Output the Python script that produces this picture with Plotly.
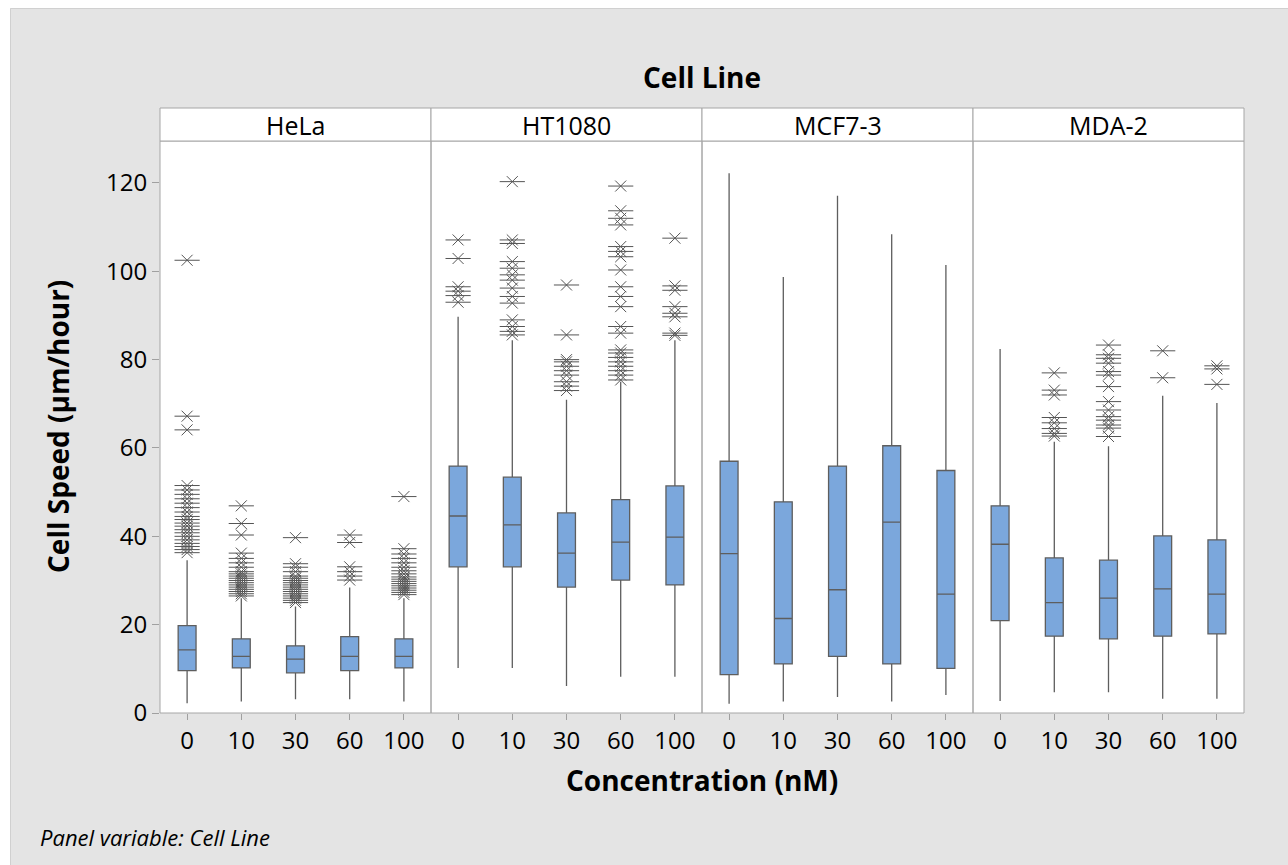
import plotly.graph_objects as go
from plotly.subplots import make_subplots

# ---- data -------------------------------------------------------------
concentrations = ["0", "10", "30", "60", "100"]
cell_lines = ["HeLa", "HT1080", "MCF7-3", "MDA-2"]

# per cell line: lower whisker, Q1, median, Q3, upper whisker (µm/hour)
hela_low = [2.2, 2.6, 3.1, 3.1, 2.6]
hela_q1 = [9.6, 10.2, 9.1, 9.6, 10.2]
hela_med = [14.3, 12.8, 12.2, 12.8, 12.8]
hela_q3 = [19.8, 16.8, 15.2, 17.3, 16.8]
hela_high = [34.6, 26.0, 24.1, 28.4, 26.0]

ht1080_low = [10.2, 10.2, 6.1, 8.2, 8.2]
ht1080_q1 = [33.1, 33.1, 28.5, 30.1, 29.0]
ht1080_med = [44.6, 42.6, 36.2, 38.7, 39.8]
ht1080_q3 = [55.9, 53.4, 45.3, 48.3, 51.4]
ht1080_high = [89.7, 84.4, 70.9, 75.0, 84.4]

mcf7_low = [2.1, 2.6, 3.6, 2.6, 4.1]
mcf7_q1 = [8.7, 11.1, 12.8, 11.1, 10.1]
mcf7_med = [36.1, 21.4, 27.9, 43.2, 26.9]
mcf7_q3 = [57.0, 47.8, 55.9, 60.5, 54.9]
mcf7_high = [122.2, 98.7, 117.1, 108.4, 101.4]

mda2_low = [2.7, 4.7, 4.7, 3.2, 3.2]
mda2_q1 = [20.9, 17.4, 16.8, 17.4, 17.9]
mda2_med = [38.2, 25.0, 26.0, 28.1, 26.9]
mda2_q3 = [46.9, 35.1, 34.6, 40.1, 39.2]
mda2_high = [82.4, 61.4, 60.4, 71.8, 70.2]

# outliers, one list per concentration
hela_outliers = [
    [36.3, 37.0, 37.7, 38.4, 39.2, 40.0, 40.8, 41.5, 42.3, 43.0, 43.8, 44.5,
     45.5, 46.5, 47.5, 48.5, 49.5, 50.5, 51.5, 64.1, 67.2, 102.5],
    [26.5, 27.0, 27.5, 28.0, 28.5, 29.0, 29.5, 30.0, 30.5, 31.0, 31.5, 32.0,
     33.0, 34.0, 35.0, 36.2, 40.3, 42.9, 46.9],
    [25.0, 25.5, 26.0, 26.5, 27.0, 27.5, 28.0, 28.5, 29.0, 29.5, 30.0, 30.5,
     31.0, 32.0, 33.0, 33.8, 39.7],
    [30.1, 31.0, 32.0, 33.1, 38.6, 40.3],
    [26.8, 27.3, 27.8, 28.3, 28.8, 29.3, 29.8, 30.3, 30.8, 31.5, 32.2, 33.0,
     34.0, 35.0, 36.0, 37.2, 49.0],
]
ht1080_outliers = [
    [93.0, 94.5, 95.5, 96.5, 102.9, 107.1],
    [85.6, 86.4, 87.5, 89.0, 92.8, 94.3, 96.2, 98.0, 99.2, 100.7, 102.2,
     106.3, 107.1, 120.3],
    [73.0, 74.0, 75.0, 76.5, 77.5, 78.5, 79.5, 80.0, 85.6, 96.9],
    [75.4, 76.5, 77.5, 78.5, 79.5, 80.5, 81.5, 82.2, 86.0, 87.5, 92.0, 94.3,
     96.5, 100.3, 103.3, 104.5, 105.6, 110.5, 112.0, 113.7, 119.3],
    [85.5, 86.0, 89.7, 90.5, 92.0, 95.7, 96.7, 107.5],
]
mcf7_outliers = [[], [], [], [], []]
mda2_outliers = [
    [],
    [62.7, 63.3, 64.4, 65.7, 66.9, 72.0, 73.1, 77.0],
    [62.6, 64.5, 65.2, 66.3, 67.1, 68.6, 70.5, 73.9, 76.5, 77.3, 79.2, 80.3,
     81.1, 83.3],
    [75.9, 82.0],
    [74.4, 77.9, 78.6],
]

panels = [
    (hela_low, hela_q1, hela_med, hela_q3, hela_high, hela_outliers),
    (ht1080_low, ht1080_q1, ht1080_med, ht1080_q3, ht1080_high, ht1080_outliers),
    (mcf7_low, mcf7_q1, mcf7_med, mcf7_q3, mcf7_high, mcf7_outliers),
    (mda2_low, mda2_q1, mda2_med, mda2_q3, mda2_high, mda2_outliers),
]

# ---- styling ----------------------------------------------------------
FONT = "Open Sans"
BOX_FILL = "#7ba7dc"
BOX_LINE = "#5e5e5e"
STAR = "#555555"
FRAME = "#a6a6a6"
BG = "#e4e4e4"

W, H = 1288, 865
L, R, T, B = 160, 44, 141, 152
plot_h = H - T - B
plot_w = W - L - R


def px_x(p):
    return (p - L) / plot_w


def px_y(p):
    return (H - B - p) / plot_h


fig = make_subplots(rows=1, cols=4, shared_yaxes=True, horizontal_spacing=0)

for i, (lo, q1, med, q3, hi, outs) in enumerate(panels):
    col = i + 1
    fig.add_trace(
        go.Box(
            x=concentrations, q1=q1, median=med, q3=q3,
            lowerfence=lo, upperfence=hi,
            fillcolor=BOX_FILL, line=dict(color=BOX_LINE, width=1.3),
            whiskerwidth=0, width=0.33, boxpoints=False,
            hoverinfo="skip", showlegend=False,
        ),
        row=1, col=col,
    )
    xs, ys = [], []
    for c, vals in zip(concentrations, outs):
        xs += [c] * len(vals)
        ys += vals
    if ys:
        # Minitab-style asterisk: horizontal bar plus an X
        for sym, size in (("line-ew-open", 18), ("x-thin-open", 11)):
            fig.add_trace(
                go.Scatter(
                    x=xs, y=ys, mode="markers",
                    marker=dict(symbol=sym, size=size, color=STAR,
                                line=dict(color=STAR, width=1)),
                    hoverinfo="skip", showlegend=False,
                ),
                row=1, col=col,
            )

for i in range(4):
    fig.update_xaxes(
        type="category", categoryorder="array", categoryarray=concentrations,
        range=[-0.5, 4.5], domain=[i * 0.25, (i + 1) * 0.25],
        showgrid=False, zeroline=False, showline=False,
        ticks="outside", ticklen=6, tickcolor="#a0a0a0",
        tickfont=dict(family=FONT, size=24, color="black"),
        row=1, col=i + 1,
    )
fig.update_yaxes(
    range=[0, 129.5], tickvals=[0, 20, 40, 60, 80, 100, 120],
    showgrid=False, zeroline=False, showline=False,
    ticks="outside", ticklen=7, tickcolor="#a0a0a0",
    tickfont=dict(family=FONT, size=24, color="black"),
    row=1, col=1,
)
for c in (2, 3, 4):
    fig.update_yaxes(showticklabels=False, ticks="", showgrid=False,
                     zeroline=False, row=1, col=c)

shapes = [
    # white page edge and frame around the grey chart area
    dict(type="rect", xref="paper", yref="paper", layer="below",
         x0=px_x(-5), x1=px_x(10), y0=px_y(880), y1=px_y(-5),
         fillcolor="white", line=dict(width=0)),
    dict(type="rect", xref="paper", yref="paper", layer="below",
         x0=px_x(-5), x1=px_x(1300), y0=px_y(8), y1=px_y(-5),
         fillcolor="white", line=dict(width=0)),
    dict(type="rect", xref="paper", yref="paper", layer="below",
         x0=px_x(10.5), x1=px_x(1300), y0=px_y(880), y1=px_y(8.5),
         fillcolor="rgba(0,0,0,0)", line=dict(color="#d0d0d0", width=1)),
]
header_h = 33 / plot_h
for i, name in enumerate(cell_lines):
    x0, x1 = i * 0.25, (i + 1) * 0.25
    shapes.append(dict(type="rect", xref="paper", yref="paper",
                       x0=x0, x1=x1, y0=0, y1=1,
                       line=dict(color=FRAME, width=1),
                       fillcolor="rgba(0,0,0,0)", layer="above"))
    shapes.append(dict(type="rect", xref="paper", yref="paper",
                       x0=x0, x1=x1, y0=1, y1=1 + header_h,
                       line=dict(color=FRAME, width=1),
                       fillcolor="white", layer="above"))

annotations = []
for i, name in enumerate(cell_lines):
    annotations.append(dict(
        text=name, xref="paper", yref="paper",
        x=i * 0.25 + 0.125, y=1 + header_h / 2,
        xanchor="center", yanchor="middle", showarrow=False,
        font=dict(family=FONT, size=25, color="black")))

annotations += [
    dict(text="<b>Cell Line</b>", xref="paper", yref="paper",
         x=0.5, y=px_y(77), xanchor="center", yanchor="middle",
         showarrow=False, font=dict(family=FONT, size=28, color="black")),
    dict(text="<b>Concentration (nM)</b>", xref="paper", yref="paper",
         x=0.5, y=px_y(780), xanchor="center", yanchor="middle",
         showarrow=False, font=dict(family=FONT, size=28, color="black")),
    dict(text="<b>Cell Speed (µm/hour)</b>", xref="paper", yref="paper",
         x=px_x(58), y=0.5, xanchor="center", yanchor="middle",
         textangle=-90, showarrow=False,
         font=dict(family=FONT, size=28, color="black")),
    dict(text="<i>Panel variable: Cell Line</i>", xref="paper", yref="paper",
         x=px_x(38), y=px_y(837), xanchor="left", yanchor="middle",
         showarrow=False, font=dict(family=FONT, size=22, color="black")),
]

fig.update_layout(
    width=W, height=H,
    margin=dict(l=L, r=R, t=T, b=B),
    paper_bgcolor=BG, plot_bgcolor="white",
    shapes=shapes, annotations=annotations,
    showlegend=False,
)

fig.write_html("out.html")
